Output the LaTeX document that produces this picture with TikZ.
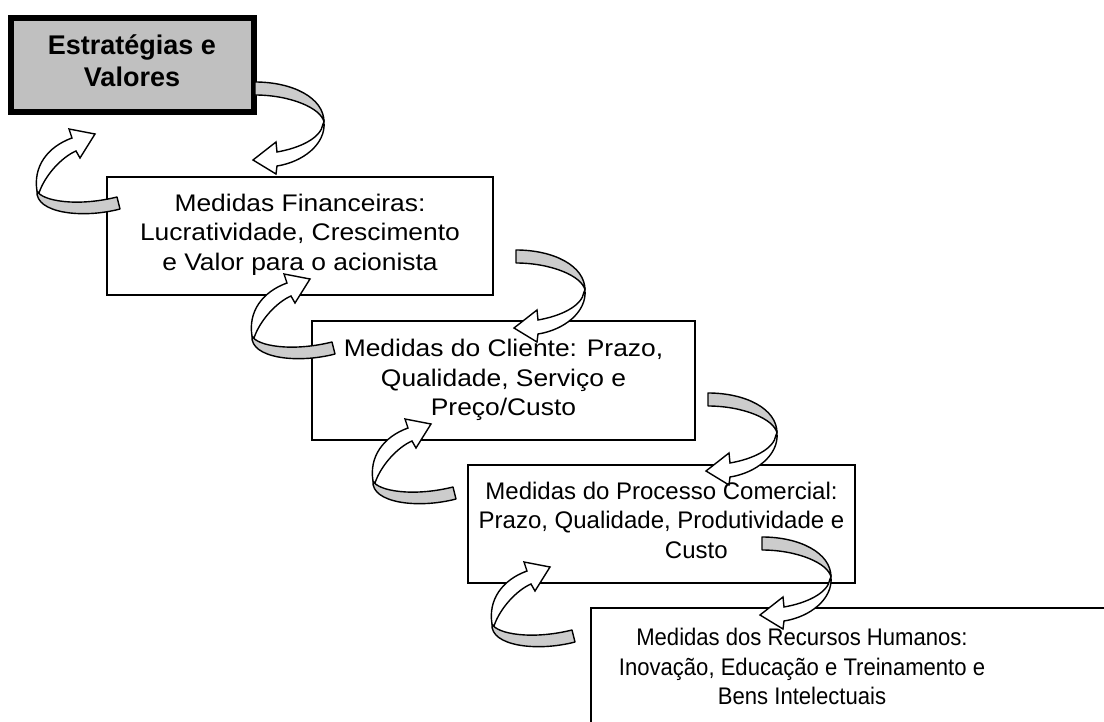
\documentclass[tikz,border=0pt]{standalone}
\usepackage{fontspec}
\setmainfont{Liberation Sans}
\newfontfamily\widefont[FakeStretch=1.1]{Liberation Sans}
\newfontfamily\narrowfont[FakeStretch=0.92]{Liberation Sans}
\definecolor{boxgray}{RGB}{192,192,192}
\definecolor{ribbongray}{RGB}{204,204,204}
\begin{document}
\begin{tikzpicture}[x=1pt, y=-1pt]
  \tikzstyle{panel}=[draw, line width=1.8pt, fill=white, inner sep=0pt]
  \tikzstyle{boxtext}=[align=center, inner sep=0pt,
    font=\widefont\fontsize{24}{29.5}\selectfont]
  \tikzstyle{ribbon}=[line width=1.4pt, fill=ribbongray, line join=round]
  \tikzstyle{face}=[line width=1.4pt, fill=white, line join=miter]
  \useasboundingbox (0,0) rectangle (1104,722);

  % frames of the five boxes
  \node[panel, line width=6pt, fill=boxgray, minimum width=243,
    minimum height=94] (est) at (132.5,65) {};
  \node[panel, minimum width=386, minimum height=118] (fin) at (300,236) {};
  \node[panel, minimum width=383, minimum height=119] (cli) at (503.5,380.5) {};
  \node[panel, minimum width=387, minimum height=118] (pro) at (661.5,524) {};
  \node[panel, minimum width=519, minimum height=132] (rh) at (850.5,674) {};

  % first loop down
  \begin{scope}[shift={(255,82)}]
    \filldraw[ribbon] (0,0) .. controls (38,0) and (69,16) .. (69,40)
      .. controls (66,26) and (35,13) .. (0,13) -- cycle;
    \filldraw[face] (69,40) .. controls (71,62) and (48,80) .. (22,84)
      -- (21,92) -- (-2,78) -- (21,60) -- (22,70)
      .. controls (45,66) and (66,56) .. (68,42) -- cycle;
  \end{scope}

  % second loop down
  \begin{scope}[shift={(516,250)}]
    \filldraw[ribbon] (0,0) .. controls (38,0) and (69,16) .. (69,40)
      .. controls (66,26) and (35,13) .. (0,13) -- cycle;
    \filldraw[face] (69,40) .. controls (71,62) and (48,80) .. (22,84)
      -- (21,92) -- (-2,78) -- (21,60) -- (22,70)
      .. controls (45,66) and (66,56) .. (68,42) -- cycle;
  \end{scope}

  % third loop down
  \begin{scope}[shift={(708,393)}]
    \filldraw[ribbon] (0,0) .. controls (38,0) and (69,16) .. (69,40)
      .. controls (66,26) and (35,13) .. (0,13) -- cycle;
    \filldraw[face] (69,40) .. controls (71,62) and (48,80) .. (22,84)
      -- (21,92) -- (-2,78) -- (21,60) -- (22,70)
      .. controls (45,66) and (66,56) .. (68,42) -- cycle;
  \end{scope}

  % fourth loop down
  \begin{scope}[shift={(762,537)}]
    \filldraw[ribbon] (0,0) .. controls (38,0) and (69,16) .. (69,40)
      .. controls (66,26) and (35,13) .. (0,13) -- cycle;
    \filldraw[face] (69,40) .. controls (71,62) and (48,80) .. (22,84)
      -- (21,92) -- (-2,78) -- (21,60) -- (22,70)
      .. controls (45,66) and (66,56) .. (68,42) -- cycle;
  \end{scope}

  % first loop up
  \begin{scope}[shift={(117,197)}]
    \filldraw[ribbon] (0,0) -- (3,12) .. controls (-35,22) and (-82,16) .. (-80,-6)
      .. controls (-75,4) and (-40,10) .. (0,0) -- cycle;
    \filldraw[face] (-80,-6) .. controls (-84,-30) and (-70,-50) .. (-45,-59)
      -- (-48,-68) -- (-22,-63) -- (-37,-39) -- (-41,-46)
      .. controls (-55,-40) and (-72,-22) .. (-78,-4) -- cycle;
  \end{scope}

  % second loop up
  \begin{scope}[shift={(332,342)}]
    \filldraw[ribbon] (0,0) -- (3,12) .. controls (-35,22) and (-82,16) .. (-80,-6)
      .. controls (-75,4) and (-40,10) .. (0,0) -- cycle;
    \filldraw[face] (-80,-6) .. controls (-84,-30) and (-70,-50) .. (-45,-59)
      -- (-48,-68) -- (-22,-63) -- (-37,-39) -- (-41,-46)
      .. controls (-55,-40) and (-72,-22) .. (-78,-4) -- cycle;
  \end{scope}

  % third loop up
  \begin{scope}[shift={(453,487)}]
    \filldraw[ribbon] (0,0) -- (3,12) .. controls (-35,22) and (-82,16) .. (-80,-6)
      .. controls (-75,4) and (-40,10) .. (0,0) -- cycle;
    \filldraw[face] (-80,-6) .. controls (-84,-30) and (-70,-50) .. (-45,-59)
      -- (-48,-68) -- (-22,-63) -- (-37,-39) -- (-41,-46)
      .. controls (-55,-40) and (-72,-22) .. (-78,-4) -- cycle;
  \end{scope}

  % fourth loop up
  \begin{scope}[shift={(572,630)}]
    \filldraw[ribbon] (0,0) -- (3,12) .. controls (-35,22) and (-82,16) .. (-80,-6)
      .. controls (-75,4) and (-40,10) .. (0,0) -- cycle;
    \filldraw[face] (-80,-6) .. controls (-84,-30) and (-70,-50) .. (-45,-59)
      -- (-48,-68) -- (-22,-63) -- (-37,-39) -- (-41,-46)
      .. controls (-55,-40) and (-72,-22) .. (-78,-4) -- cycle;
  \end{scope}

  % texts
  \node[boxtext, font=\bfseries\fontsize{27}{32}\selectfont] (esttxt) at (132,61)
    {Estratégias e\\Valores};
  \node[boxtext] (fintxt) at (300,234.7)
    {Medidas Financeiras:\\Lucratividade, Crescimento\\e Valor para o acionista};
  \node[boxtext] (clitxt) at (503.5,380)
    {Medidas do Cliente: Prazo,\\Qualidade, Serviço e\\Preço/Custo};
  \node[boxtext, font=\fontsize{24}{29.5}\selectfont] (protxt) at (661.5,520.4)
    {Medidas do Processo Comercial:\\Prazo, Qualidade, Produtividade e\\
    \hspace*{2.9em}Custo};
  \node[boxtext, font=\narrowfont\fontsize{24}{29.5}\selectfont] (rhtxt) at (802,666.8)
    {Medidas dos Recursos Humanos:\\Inovação, Educação e Treinamento e\\
    Bens Intelectuais};
\end{tikzpicture}
\end{document}
